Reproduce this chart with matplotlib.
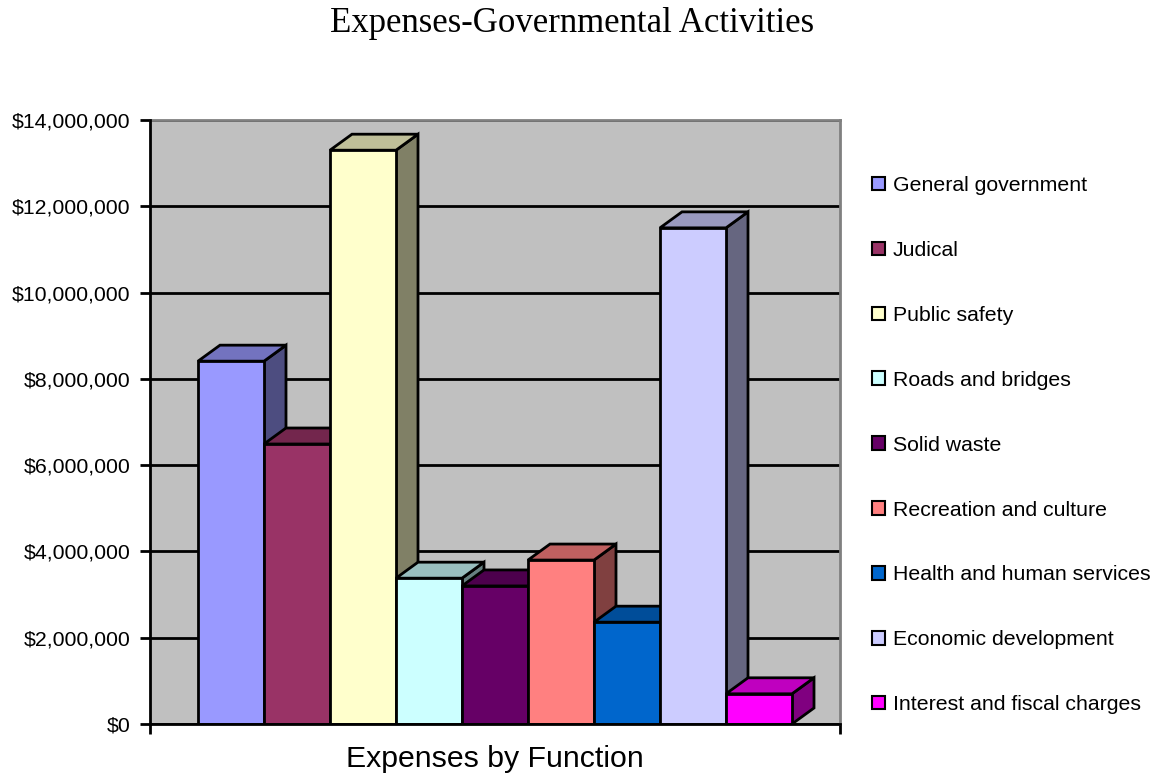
import matplotlib
matplotlib.use("Agg")
import matplotlib.pyplot as plt
from matplotlib.patches import Polygon, Patch
from matplotlib.ticker import FuncFormatter
import numpy as np

categories = ["General government", "Judical", "Public safety", "Roads and bridges",
              "Solid waste", "Recreation and culture", "Health and human services",
              "Economic development", "Interest and fiscal charges"]
values = [8410000, 6490000, 13300000, 3380000, 3200000, 3800000, 2360000, 11500000, 700000]
colors = ["#9999FF", "#993366", "#FFFFCC", "#CCFFFF", "#660066", "#FF8080",
          "#0066CC", "#CCCCFF", "#FF00FF"]
yticks = [0, 2000000, 4000000, 6000000, 8000000, 10000000, 12000000, 14000000]

W, H = 1159, 778
fig = plt.figure(figsize=(W / 100, H / 100), dpi=100)
plt.rcParams['font.family'] = ['Liberation Sans', 'DejaVu Sans']

L, R, T, B = 150, 840, 120, 724
ax = fig.add_axes([L / W, (H - B) / H, (R - L) / W, (B - T) / H])
ax.set_facecolor("#C0C0C0")

barw_px = 66.0
xmax = (R - L) / barw_px
ymax = 14000000
ax.set_xlim(0, xmax)
ax.set_ylim(0, ymax)

# depth offsets in data units (22 px right, 16 px up)
dx = 22.0 / barw_px
dy = 16.0 * ymax / (B - T)

start = 48.0 / barw_px
for i, (v, c) in enumerate(zip(values, colors)):
    x0 = start + i
    x1 = x0 + 1
    rgb = np.array(matplotlib.colors.to_rgb(c))
    top_c = rgb * 0.75
    side_c = rgb * 0.5
    z = 3 + i
    ax.add_patch(Polygon([(x1, 0), (x1 + dx, dy), (x1 + dx, v + dy), (x1, v)],
                         closed=True, facecolor=side_c, edgecolor="black", lw=2,
                         zorder=z, joinstyle="miter"))
    ax.add_patch(Polygon([(x0, v), (x1, v), (x1 + dx, v + dy), (x0 + dx, v + dy)],
                         closed=True, facecolor=top_c, edgecolor="black", lw=2,
                         zorder=z, joinstyle="miter"))
    ax.bar(x0, v, width=1, align="edge", color=c, edgecolor="black", lw=2, zorder=z)

ax.set_yticks(yticks)
ax.yaxis.set_major_formatter(FuncFormatter(lambda v, p: "${:,.0f}".format(v)))
ax.grid(axis="y", color="black", lw=2, zorder=1)
ax.set_axisbelow(True)
ax.set_xticks([0, xmax])
ax.set_xticklabels([])
ax.tick_params(axis="both", direction="out", length=7, width=2, color="black",
               labelsize=15.3, pad=7)
for s in ["left", "bottom"]:
    ax.spines[s].set_color("black")
    ax.spines[s].set_linewidth(2)
    ax.spines[s].set_zorder(20)
for s in ["top", "right"]:
    ax.spines[s].set_color("#808080")
    ax.spines[s].set_linewidth(2)

fig.text(572 / W, 1 - 32 / H, "Expenses-Governmental Activities", ha="center", va="baseline",
         fontsize=25, family=["Liberation Serif", "DejaVu Serif"])
fig.text(495 / W, 1 - 767 / H, "Expenses by Function", ha="center", va="baseline", fontsize=21.8)

handles = [Patch(facecolor=c, edgecolor="black", lw=1.5) for c in colors]
fig.legend(handles, categories, loc="upper left", bbox_to_anchor=(872 / W, 1 - 176 / H),
           frameon=False, fontsize=15.3, handlelength=0.6, handleheight=0.6,
           handletextpad=0.38, labelspacing=2.16, borderaxespad=0, borderpad=0)

fig.savefig("out.png", dpi=100)
